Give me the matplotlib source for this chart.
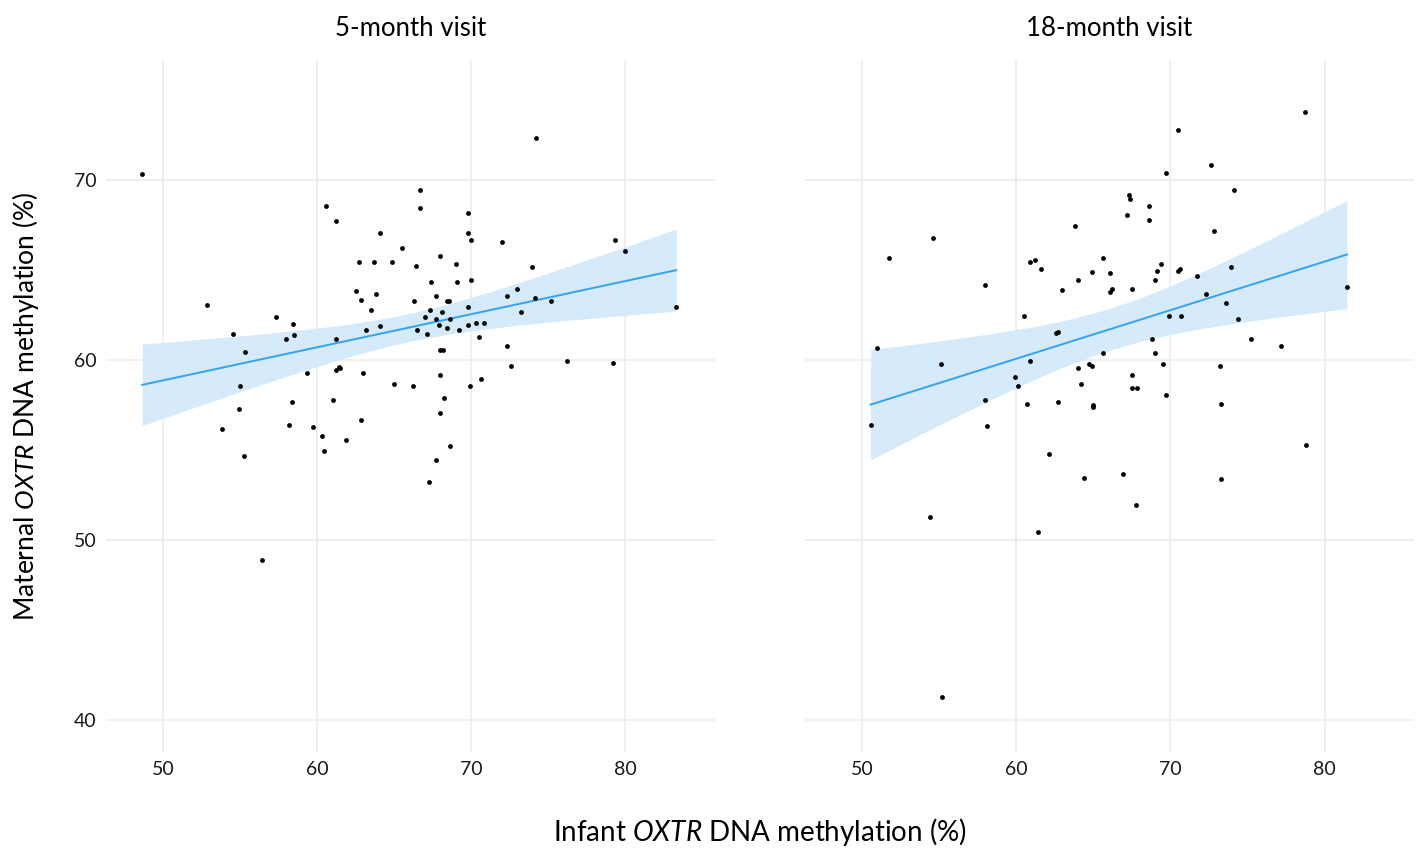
import numpy as np
import matplotlib
matplotlib.use('Agg')
import matplotlib.pyplot as plt

# values (infant %, maternal %)
infant_5m = [48.65, 60.6, 61.2, 64.1, 65.5, 62.7, 63.7, 64.85, 66.4, 62.5,
             62.85, 63.8, 63.5, 66.3, 52.85, 57.35, 58.45, 54.55, 57.95, 58.5,
             61.2, 63.2, 64.1, 66.5, 66.7, 66.7, 55.35, 55.0, 54.95, 53.85,
             55.24, 56.45, 59.35, 61.2, 61.4, 61.5, 62.95, 65.0, 66.25, 58.35,
             61.05, 58.15, 59.75, 60.3, 60.45, 61.85, 62.85, 74.2, 69.8, 69.8,
             70.0, 72.0, 79.3, 80.0, 67.95, 69.0, 67.4, 69.1, 70.0, 73.95,
             67.7, 68.4, 68.55, 72.35, 73.0, 74.15, 75.2, 83.3, 67.3, 68.1,
             69.8, 67.0, 67.7, 68.6, 73.2, 67.1, 67.9, 68.4, 69.2, 69.8,
             70.3, 70.8, 70.5, 72.3, 68.0, 68.15, 76.2, 79.2, 72.6, 68.0,
             70.6, 69.9, 68.2, 67.95, 68.65, 67.7, 67.25]
maternal_5m = [70.35, 68.55, 67.7, 67.05, 66.2, 65.45, 65.45, 65.45, 65.2, 63.85,
               63.35, 63.65, 62.75, 63.25, 63.07, 62.37, 61.98, 61.46, 61.17, 61.37,
               61.17, 61.67, 61.87, 61.67, 69.46, 68.46, 60.46, 58.57, 57.26, 56.17,
               54.67, 48.87, 59.26, 59.46, 59.6, 59.55, 59.26, 58.67, 58.57, 57.67,
               57.76, 56.37, 56.26, 55.76, 54.96, 55.56, 56.67, 72.35, 68.15, 67.05,
               66.67, 66.56, 66.67, 66.05, 65.76, 65.35, 64.35, 64.35, 64.46, 65.17,
               63.57, 63.25, 63.25, 63.57, 63.97, 63.46, 63.25, 62.96, 62.76, 62.67,
               62.96, 62.37, 62.26, 62.26, 62.67, 61.46, 61.96, 61.76, 61.67, 61.96,
               62.07, 62.07, 61.26, 60.76, 60.56, 60.56, 59.96, 59.85, 59.66, 59.15,
               58.96, 58.56, 57.87, 57.05, 55.25, 54.45, 53.25]

infant_18m = [51.78, 54.6, 50.98, 57.98, 60.5, 60.9, 61.2, 61.6, 63.0, 63.8,
              64.0, 64.9, 65.6, 66.1, 66.1, 66.2, 67.5, 67.2, 67.3, 67.4,
              62.6, 62.7, 65.6, 60.9, 55.1, 50.56, 57.98, 58.1, 59.9, 60.1,
              60.7, 62.7, 62.1, 64.0, 64.7, 64.9, 64.2, 65.0, 65.0, 67.5,
              67.5, 67.85, 64.4, 66.9, 67.8, 54.4, 61.4, 55.2, 78.7, 70.5,
              72.6, 69.7, 74.1, 68.6, 68.6, 72.8, 69.4, 69.1, 69.0, 70.5,
              70.6, 71.7, 73.9, 72.3, 73.6, 69.9, 70.7, 74.4, 81.45, 68.8,
              75.2, 77.2, 69.0, 69.5, 73.2, 69.7, 73.3, 78.8, 73.3]
maternal_18m = [65.65, 66.76, 60.67, 64.17, 62.46, 65.46, 65.56, 65.06, 63.87, 67.46,
                64.44, 64.87, 65.65, 64.85, 63.76, 63.96, 63.96, 68.06, 69.17, 68.96,
                61.48, 61.56, 60.37, 59.96, 59.76, 56.37, 57.76, 56.35, 59.07, 58.56,
                57.56, 57.67, 54.76, 59.56, 59.76, 59.67, 58.67, 57.5, 57.4, 59.17,
                58.46, 58.46, 53.46, 53.67, 51.96, 51.28, 50.46, 41.28, 73.76, 72.76,
                70.85, 70.37, 69.46, 68.56, 67.76, 67.17, 65.35, 64.96, 64.44, 64.96,
                65.06, 64.67, 65.17, 63.67, 63.17, 62.46, 62.46, 62.26, 64.06, 61.17,
                61.17, 60.76, 60.37, 59.76, 59.67, 58.06, 57.56, 55.26, 53.37]

panels = ['5-month visit', '18-month visit']
xticks = [50, 60, 70, 80]
yticks = [40, 50, 60, 70]

plt.rcParams['font.family'] = 'Lato'
plt.rcParams['mathtext.fontset'] = 'custom'
plt.rcParams['mathtext.rm'] = 'Lato'
plt.rcParams['mathtext.it'] = 'Lato:italic'

LINE = '#35a3f2'
BAND = '#d5eafa'
GRID = '#ebebeb'


def lm_fit(x, y):
    # ordinary least squares with a 95% confidence band (like geom_smooth(method='lm'))
    x = np.asarray(x)
    y = np.asarray(y)
    n = len(x)
    b, a = np.polyfit(x, y, 1)
    resid = y - (a + b * x)
    s = np.sqrt(np.sum(resid ** 2) / (n - 2))
    sxx = np.sum((x - x.mean()) ** 2)
    xs = np.linspace(x.min(), x.max(), 100)
    fit = a + b * xs
    se = s * np.sqrt(1.0 / n + (xs - x.mean()) ** 2 / sxx)
    t = 1.99
    return xs, fit, fit - t * se, fit + t * se


fig = plt.figure(figsize=(14.21, 8.52), dpi=100)
ax1 = fig.add_axes([0.0746, 0.1177, 0.4284, 0.8120])
ax2 = fig.add_axes([0.5665, 0.1177, 0.4286, 0.8120])

for ax, title, xv, yv in [(ax1, panels[0], infant_5m, maternal_5m),
                          (ax2, panels[1], infant_18m, maternal_18m)]:
    xs, fit, lo, hi = lm_fit(xv, yv)
    ax.fill_between(xs, lo, hi, color=BAND, lw=0, zorder=1)
    ax.plot(xs, fit, color=LINE, lw=1.4, zorder=2)
    ax.scatter(xv, yv, s=12, color='black', lw=0, zorder=3)

    ax.set_xlim(46.3, 85.8)
    ax.set_ylim(38.24, 76.67)
    ax.set_xticks(xticks)
    ax.set_yticks(yticks)
    ax.grid(True, color=GRID, lw=1.1)
    ax.set_axisbelow(True)
    for sp in ax.spines.values():
        sp.set_visible(False)
    ax.tick_params(length=0, labelsize=14, colors='#1a1a1a', pad=7)
    ax.set_title(title, fontsize=18.5, pad=17, color='black')

ax2.tick_params(labelleft=False)

fig.text(0.535, 0.023, r'Infant $\mathit{OXTR}$ DNA methylation (%)',
         ha='center', va='center', fontsize=20)
fig.text(0.018, 0.5235, r'Maternal $\mathit{OXTR}$ DNA methylation (%)',
         ha='center', va='center', rotation=90, fontsize=19)

fig.savefig('out.png', dpi=100, facecolor='white')
